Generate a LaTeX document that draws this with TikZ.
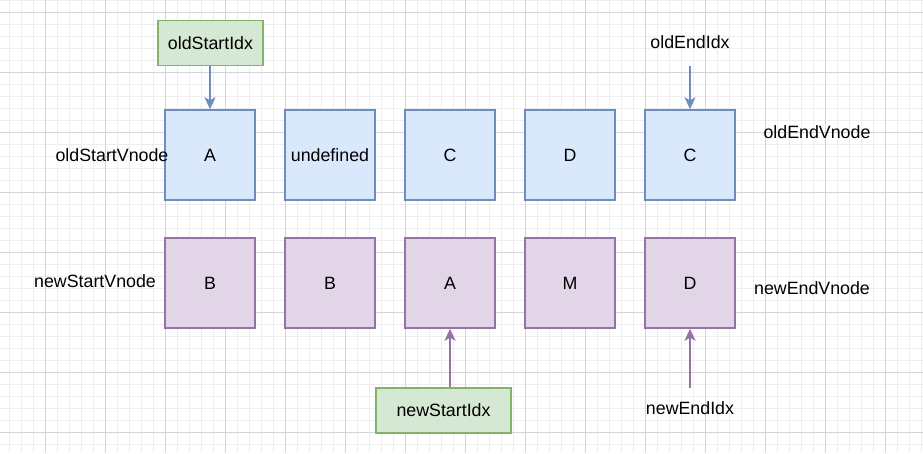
\documentclass[tikz,border=0pt]{standalone}
\usepackage{fontspec}
\setmainfont{Liberation Sans}
\usetikzlibrary{arrows.meta}
\definecolor{bfill}{HTML}{DAE8FC}
\definecolor{bline}{HTML}{6C8EBF}
\definecolor{pfill}{HTML}{E1D5E7}
\definecolor{pline}{HTML}{9673A6}
\definecolor{gfill}{HTML}{D5E8D4}
\definecolor{gline}{HTML}{82B366}
\definecolor{gridminor}{HTML}{EEEEEE}
\definecolor{gridmajor}{HTML}{D4D4D4}
\begin{document}
\begin{tikzpicture}[x=1pt,y=-1pt,
  every node/.style={font=\fontsize{17.8}{20}\selectfont, inner sep=0pt},
  oldbox/.style={draw=bline, fill=bfill, line width=1.5pt, minimum width=90pt, minimum height=90pt},
  newbox/.style={draw=pline, fill=pfill, line width=1.5pt, minimum width=90pt, minimum height=90pt},
  idxbox/.style={draw=gline, fill=gfill, line width=1.5pt, minimum height=45pt},
  barrow/.style={draw=bline, line width=1.5pt, -{Stealth[length=12pt,width=11pt,inset=3pt]}},
  parrow/.style={draw=pline, line width=1.5pt, -{Stealth[length=12pt,width=11pt,inset=3pt]}},
  lbl/.style={}]
\useasboundingbox (0,0) rectangle (923,453);
\fill[white] (0,0) rectangle (923,453);
% grid
\foreach \x in {9,21,...,921} \draw[gridminor, line width=1pt] (\x,0) -- (\x,453);
\foreach \y in {0,12,...,452} \draw[gridminor, line width=1pt] (0,\y) -- (923,\y);
\foreach \x in {45,105,...,921} \draw[gridmajor, line width=1pt] (\x,0) -- (\x,453);
\foreach \y in {12,72,...,452} \draw[gridmajor, line width=1pt] (0,\y) -- (923,\y);
% old row
\node[oldbox] (o1) at (210,155) {A};
\node[oldbox] (o2) at (330,155) {undefined};
\node[oldbox] (o3) at (450,155) {C};
\node[oldbox] (o4) at (570,155) {D};
\node[oldbox] (o5) at (690,155) {C};
% new row
\node[newbox] (n1) at (210,283) {B};
\node[newbox] (n2) at (330,283) {B};
\node[newbox] (n3) at (450,283) {A};
\node[newbox] (n4) at (570,283) {M};
\node[newbox] (n5) at (690,283) {D};
% side labels
\node[lbl] (osv) at (112,155) {oldStartVnode};
\node[lbl] (oev) at (817,132) {oldEndVnode};
\node[lbl] (nsv) at (95,281) {newStartVnode};
\node[lbl] (nev) at (812,288) {newEndVnode};
% indices
\node[idxbox, minimum width=105pt] (osi) at (210.5,43) {oldStartIdx};
\node[lbl] (oei) at (690,42) {oldEndIdx};
\coordinate (oeis) at (690,66);
\node[idxbox, minimum width=135pt] (nsi) at (443.5,410.5) {newStartIdx};
\node[lbl] (nei) at (690,408) {newEndIdx};
\coordinate (neis) at (690,388);
% arrows
\draw[barrow] (osi.south -| o1.north) -- (o1.north);
\draw[barrow] (oeis) -- (o5.north);
\draw[parrow] (nsi.north -| n3.south) -- (n3.south);
\draw[parrow] (neis) -- (n5.south);
\end{tikzpicture}
\end{document}
